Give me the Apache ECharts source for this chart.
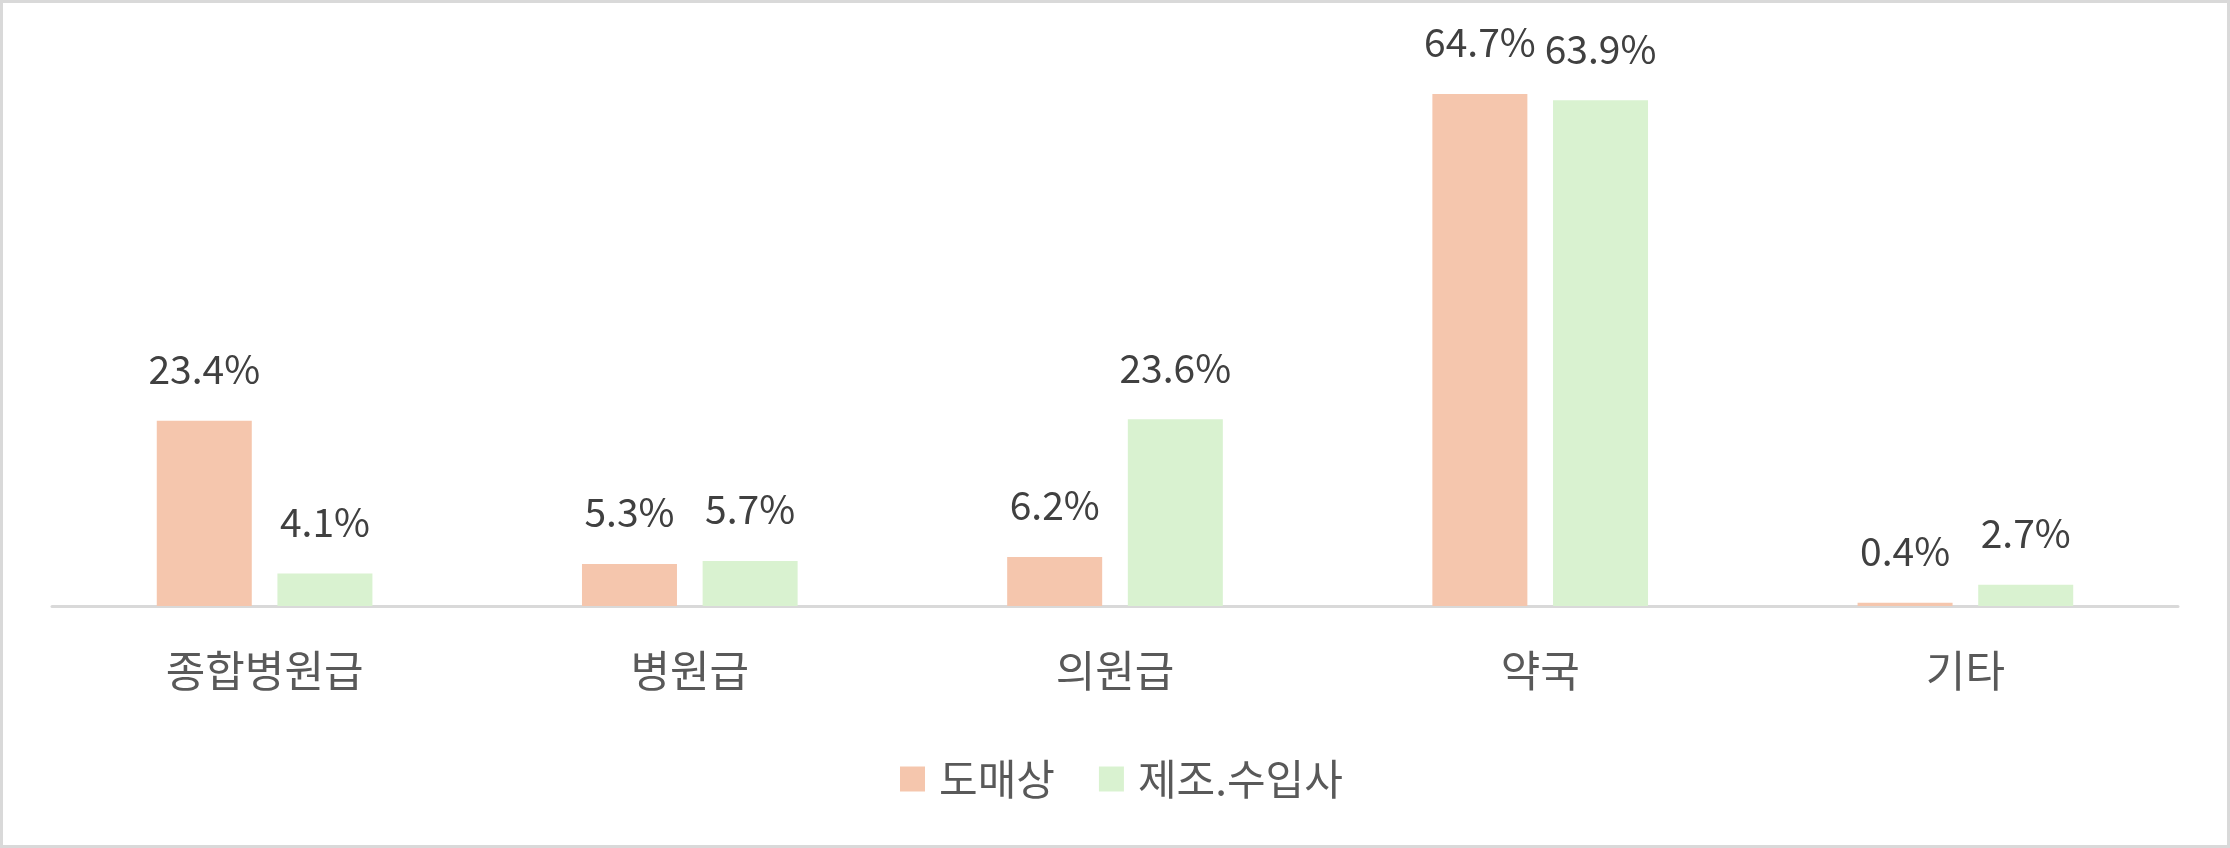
<!DOCTYPE html>
<html><head><meta charset="utf-8">
<script src="https://cdn.jsdelivr.net/npm/echarts@6/dist/echarts.min.js"></script>
<style>html,body{margin:0;padding:0;background:#fff}#c{width:2230px;height:848px;box-sizing:border-box;border:3px solid #D9D9D9}</style>
</head><body><div id="c"></div>
<script>
const categories = ['종합병원급', '병원급', '의원급', '약국', '기타'];
const seriesNames = ['도매상', '제조.수입사'];
const wholesale = [23.4, 5.3, 6.2, 64.7, 0.4];
const manufacturer = [4.1, 5.7, 23.6, 63.9, 2.7];
const colors = ['#F5C6AD', '#D9F2D0'];
const FONT = '"Noto Sans CJK KR", "Noto Sans", sans-serif';
const chart = echarts.init(document.getElementById('c'));
const label = {
  show: true, position: 'top', distance: 32,
  formatter: p => p.value.toFixed(1) + '%',
  color: '#404040', fontSize: 39, fontFamily: FONT
};
chart.setOption({
  animation: false,
  grid: { left: 49, right: 49, top: 49, bottom: 239, containLabel: false },
  legend: {
    data: seriesNames, left: 892, top: 750, itemWidth: 25, itemHeight: 25, itemGap: 44,
    icon: 'rect',
    textStyle: { fontSize: 42, color: '#595959', fontFamily: FONT, padding: [0, 0, 0, 9] }
  },
  xAxis: {
    type: 'category', data: categories,
    axisLine: { lineStyle: { color: '#D9D9D9', width: 3 } },
    axisTick: { show: false },
    axisLabel: { fontSize: 43, color: '#595959', fontFamily: FONT, margin: 43 }
  },
  yAxis: { type: 'value', min: 0, max: 70, show: false, splitLine: { show: false } },
  series: [
    { name: seriesNames[0], type: 'bar', data: wholesale, itemStyle: { color: colors[0] },
      barWidth: 95, barGap: '27%', label },
    { name: seriesNames[1], type: 'bar', data: manufacturer, itemStyle: { color: colors[1] },
      barWidth: 95, barGap: '27%', label }
  ]
});
</script></body></html>
